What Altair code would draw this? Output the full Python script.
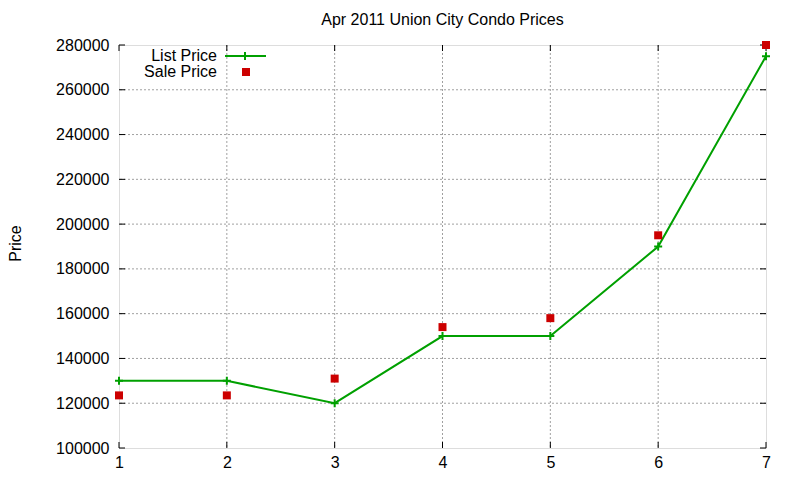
import altair as alt
import pandas as pd

# ---- data ----
months = [1, 2, 3, 4, 5, 6, 7]
list_price = [130000, 130000, 120000, 150000, 150000, 190000, 275000]
sale_price = [123500, 123500, 131000, 154000, 158000, 195000, 280000]
series_names = ["List Price", "Sale Price"]
x_ticks = [1, 2, 3, 4, 5, 6, 7]
y_ticks = [100000, 120000, 140000, 160000, 180000, 200000, 220000, 240000, 260000, 280000]
title_text = "Apr 2011 Union City Condo Prices"
y_title = "Price"

df = pd.DataFrame({"x": months, "list": list_price, "sale": sale_price})
gx = pd.DataFrame({"x": x_ticks})
gy = pd.DataFrame({"y": y_ticks})

W, H = 647, 403
GREEN = "#00a000"
RED = "#cc0000"
FONT = "Liberation Sans"
FS = 16

xs = alt.Scale(domain=[x_ticks[0], x_ticks[-1]], nice=False, zero=False)
ys = alt.Scale(domain=[y_ticks[0], y_ticks[-1]], nice=False, zero=False)

xaxis = alt.Axis(values=x_ticks, format="d", ticks=False, domain=False, grid=False,
                 labelFlush=False, labelPadding=6, labelFont=FONT, labelFontSize=FS,
                 labelColor="black", title=None)
yaxis = alt.Axis(values=y_ticks, format="d", ticks=False, domain=False, grid=False,
                 labelFlush=False, labelPadding=10, labelFont=FONT, labelFontSize=FS,
                 labelColor="black",
                 title=y_title, titleFont=FONT, titleFontSize=FS, titleFontWeight="normal",
                 titleColor="black", titleX=-104, titleY=198, titleAngle=270,
                 titleAlign="center", titleBaseline="middle")

# grid lines (interior only)
grid_v = alt.Chart(gx[(gx.x > x_ticks[0]) & (gx.x < x_ticks[-1])]).mark_rule(
    color="#a0a0a0", strokeDash=[2, 2], strokeWidth=1
).encode(x=alt.X("x:Q", scale=xs, axis=xaxis))
grid_h = alt.Chart(gy[(gy.y > y_ticks[0]) & (gy.y < y_ticks[-1])]).mark_rule(
    color="#a0a0a0", strokeDash=[2, 2], strokeWidth=1
).encode(y=alt.Y("y:Q", scale=ys, axis=yaxis))

# inward ticks on all four sides
TK = 6
tick_style = dict(color="black", strokeWidth=1)
t_left = alt.Chart(gy).mark_rule(**tick_style).encode(
    y=alt.Y("y:Q", scale=ys), x=alt.value(0), x2=alt.value(TK))
t_right = alt.Chart(gy).mark_rule(**tick_style).encode(
    y=alt.Y("y:Q", scale=ys), x=alt.value(W - TK), x2=alt.value(W))
t_bottom = alt.Chart(gx).mark_rule(**tick_style).encode(
    x=alt.X("x:Q", scale=xs), y=alt.value(H - TK), y2=alt.value(H))
t_top = alt.Chart(gx).mark_rule(**tick_style).encode(
    x=alt.X("x:Q", scale=xs), y=alt.value(0), y2=alt.value(TK))

cross = "M-1,0L1,0M0,-1L0,1"

line = alt.Chart(df).mark_line(color=GREEN, strokeWidth=2).encode(
    x=alt.X("x:Q", scale=xs), y=alt.Y("list:Q", scale=ys))
line_pts = alt.Chart(df).mark_point(shape=cross, filled=False, color=GREEN,
                                    strokeWidth=2, size=64, opacity=1).encode(
    x=alt.X("x:Q", scale=xs), y=alt.Y("list:Q", scale=ys))
sale_pts = alt.Chart(df).mark_point(shape="square", filled=True, color=RED,
                                    size=64, opacity=1).encode(
    x=alt.X("x:Q", scale=xs), y=alt.Y("sale:Q", scale=ys))

# key (gnuplot style: text right-aligned, sample on the right)
leg1 = pd.DataFrame({"label": [series_names[0]]})
leg2 = pd.DataFrame({"label": [series_names[1]]})
k_t1 = alt.Chart(leg1).mark_text(align="right", baseline="middle", font=FONT,
                                 fontSize=FS, color="black").encode(
    text="label:N", x=alt.value(98), y=alt.value(11))
k_t2 = alt.Chart(leg2).mark_text(align="right", baseline="middle", font=FONT,
                                 fontSize=FS, color="black").encode(
    text="label:N", x=alt.value(98), y=alt.value(27))
k_line = alt.Chart(leg1).mark_rule(color=GREEN, strokeWidth=2).encode(
    x=alt.value(106), x2=alt.value(147), y=alt.value(11))
k_cross = alt.Chart(leg1).mark_point(shape=cross, filled=False, color=GREEN,
                                     strokeWidth=2, size=64, opacity=1).encode(
    x=alt.value(126), y=alt.value(11))
k_sq = alt.Chart(leg2).mark_point(shape="square", filled=True, color=RED,
                                  size=64, opacity=1).encode(
    x=alt.value(127), y=alt.value(27))

chart = alt.layer(
    grid_v, grid_h, t_left, t_right, t_bottom, t_top,
    line, line_pts, sale_pts,
    k_t1, k_t2, k_line, k_cross, k_sq,
).properties(
    width=W, height=H,
    title=alt.TitleParams(title_text, font=FONT, fontSize=FS, fontWeight="normal",
                          color="black", anchor="middle", offset=9),
    autosize=alt.AutoSizeParams(type="none"),
    padding={"left": 111, "top": 37, "right": 26, "bottom": 24},
).configure_view(
    stroke="black", strokeWidth=1
).configure(background="white")

chart.save("out.html", embed_options={"renderer": "svg", "actions": False})
